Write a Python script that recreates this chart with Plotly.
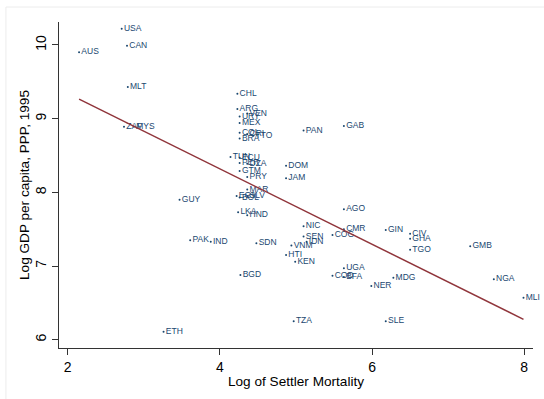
import numpy as np
import plotly.graph_objects as go

countries = ["AUS","USA","CAN","MLT","ZAF","MYS","CHL","ARG","VEN","URY","MEX","COL","CRI","TTO","BRA",
             "PAN","GAB","TUN","ECU","PER","DZA","DOM","GTM","PRY","JAM","MAR","EGY","SLV","BOL","LKA",
             "HND","AGO","GUY","NIC","CMR","GIN","CIV","GHA","SEN","IDN","COG","VNM","SDN","PAK","IND",
             "HTI","KEN","TGO","GMB","UGA","COD","BFA","MDG","NER","NGA","MLI","BGD","TZA","SLE","ETH"]
settler_mortality = [2.15,2.71,2.78,2.79,2.74,2.87,4.23,4.23,4.36,4.26,4.26,4.26,4.36,4.44,4.26,
                     5.10,5.63,4.14,4.26,4.26,4.36,4.87,4.26,4.36,4.87,4.36,4.22,4.36,4.26,4.24,
                     4.36,5.63,3.47,5.10,5.63,6.18,6.50,6.50,5.10,5.14,5.48,4.94,4.48,3.61,3.88,
                     4.87,4.99,6.50,7.29,5.63,5.48,5.63,6.28,5.99,7.60,7.99,4.27,4.97,6.18,3.26]
log_gdp = [9.90,10.22,9.99,9.43,8.89,8.89,9.34,9.13,9.07,9.03,8.94,8.81,8.79,8.77,8.73,
           8.84,8.90,8.48,8.47,8.40,8.39,8.36,8.29,8.21,8.19,8.04,7.95,7.95,7.93,7.73,
           7.69,7.77,7.90,7.54,7.50,7.49,7.44,7.37,7.40,7.33,7.42,7.28,7.31,7.35,7.33,
           7.15,7.06,7.22,7.27,6.97,6.87,6.85,6.84,6.73,6.82,6.57,6.88,6.25,6.25,6.11]
x_ticks = [2, 4, 6, 8]
y_ticks = [6, 7, 8, 9, 10]

navy = "#1a476f"
maroon = "#90353b"
font = "Liberation Sans, Arial, sans-serif"

x = np.array(settler_mortality)
y = np.array(log_gdp)
slope, intercept = np.polyfit(x, y, 1)
fx = np.array([x.min(), x.max()])
fy = intercept + slope * fx

fig = go.Figure()
fig.add_trace(go.Scatter(
    x=settler_mortality, y=log_gdp, mode="markers+text", text=countries,
    textposition="middle right",
    textfont=dict(family=font, size=8.5, color=navy),
    marker=dict(size=2, color=navy), showlegend=False, cliponaxis=False))
fig.add_trace(go.Scatter(x=fx, y=fy, mode="lines", line=dict(color=maroon, width=1.5),
                         showlegend=False))

# faint outer frame lines (top and left)
fig.add_shape(type="line", xref="paper", yref="paper", x0=-0.112, x1=1.03, y0=1.046, y1=1.046,
              line=dict(color="#ececec", width=1))
fig.add_shape(type="line", xref="paper", yref="paper", x0=-0.112, x1=-0.112, y0=1.046, y1=-0.16,
              line=dict(color="#ececec", width=1))

fig.update_layout(
    width=544, height=399,
    margin=dict(l=59, r=11, t=22, b=51),
    paper_bgcolor="white", plot_bgcolor="white",
    font=dict(family=font, size=14, color="black"),
    xaxis=dict(range=[1.886, 8.115], tickvals=x_ticks, ticks="outside", ticklen=6,
               tickcolor="#333", showline=True, linecolor="#333", linewidth=1,
               showgrid=False, zeroline=False, tickfont=dict(size=14),
               title=dict(text="Log of Settler Mortality", font=dict(size=13.6), standoff=2)),
    yaxis=dict(range=[5.888, 10.312], tickvals=y_ticks, ticks="outside", ticklen=6,
               tickcolor="#333", showline=True, linecolor="#333", linewidth=1,
               showgrid=False, zeroline=False, tickangle=-90, tickfont=dict(size=14),
               title=dict(text="Log GDP per capita, PPP, 1995", font=dict(size=13.6), standoff=0)),
)
fig.write_html("out.html")
